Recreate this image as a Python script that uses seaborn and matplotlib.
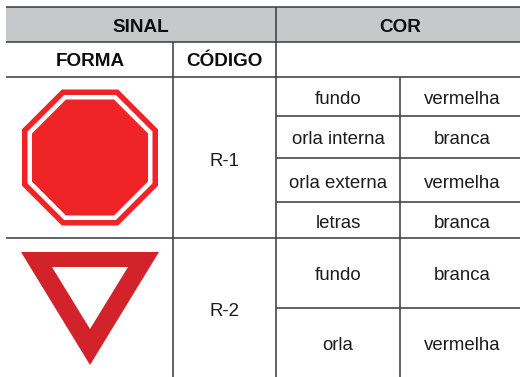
import numpy as np
import matplotlib.pyplot as plt
from matplotlib.patches import Polygon, Rectangle
import seaborn as sns

# table text
group_headers = ["SINAL", "COR"]
sub_headers = ["FORMA", "CÓDIGO"]
codes = ["R-1", "R-2"]
parts = ["fundo", "orla interna", "orla externa", "letras", "fundo", "orla"]
colours = ["vermelha", "branca", "vermelha", "branca", "branca", "vermelha"]

# layout, in image pixels
W, H = 520, 377
LINE = "#3f4042"
GREY = "#c7c8ca"
RED_STOP = "#ee2427"
RED_YIELD = "#d2232a"
part_rows = [99, 139.5, 183, 223, 275, 345]

sns.set_theme(style="white")
plt.rcParams["font.family"] = ["Liberation Sans", "DejaVu Sans"]

fig, ax = plt.subplots(figsize=(W / 100, H / 100), dpi=100)
ax.set_position([0, 0, 1, 1])
ax.set_xlim(0, W)
ax.set_ylim(H, 0)
ax.axis("off")


def octagon(cx, cy, w):
    k = w * np.tan(np.pi / 8)
    return [(cx - k, cy - w), (cx + k, cy - w), (cx + w, cy - k), (cx + w, cy + k),
            (cx + k, cy + w), (cx - k, cy + w), (cx - w, cy + k), (cx - w, cy - k)]


# header band
ax.add_patch(Rectangle((6, 7), W - 6, 35, fc=GREY, ec="none", zorder=0))

# grid
for y, x0 in [(7, 6), (42, 6), (77, 6), (238, 6), (116, 276), (158, 276), (202, 276), (308, 276)]:
    ax.plot([x0, W], [y, y], color=LINE, lw=1.15, solid_capstyle="butt")
for x, y0 in [(173, 42), (276, 7), (400, 77)]:
    ax.plot([x, x], [y0, H], color=LINE, lw=1.15, solid_capstyle="butt")

# signs
ax.add_patch(Polygon(octagon(90, 157.5, 68), fc=RED_STOP, ec="none"))
ax.add_patch(Polygon(octagon(90, 157.5, 62.5), fc="white", ec="none"))
ax.add_patch(Polygon(octagon(90, 157.5, 58), fc=RED_STOP, ec="none"))
ax.add_patch(Polygon([(21, 252), (159, 252), (90, 365)], fc=RED_YIELD, ec="none"))
ax.add_patch(Polygon([(52, 267), (128, 267), (90, 329)], fc="white", ec="none"))

# text
bold = dict(ha="center", va="center", fontsize=13.6, fontweight="bold", color="#0d0d0d")
body = dict(ha="center", va="center", fontsize=13.4, color="#1c1c1c")
for label, x in zip(group_headers, [141, 400]):
    ax.text(x, 27.5, label, **bold)
for label, x in zip(sub_headers, [90, 224.5]):
    ax.text(x, 61.5, label, **bold)
for label, y in zip(codes, [161, 312]):
    ax.text(224, y, label, **body)
for part, colour, y in zip(parts, colours, part_rows):
    ax.text(338, y, part, **body)
    ax.text(462, y, colour, **body)

fig.savefig("out.png", dpi=100)
